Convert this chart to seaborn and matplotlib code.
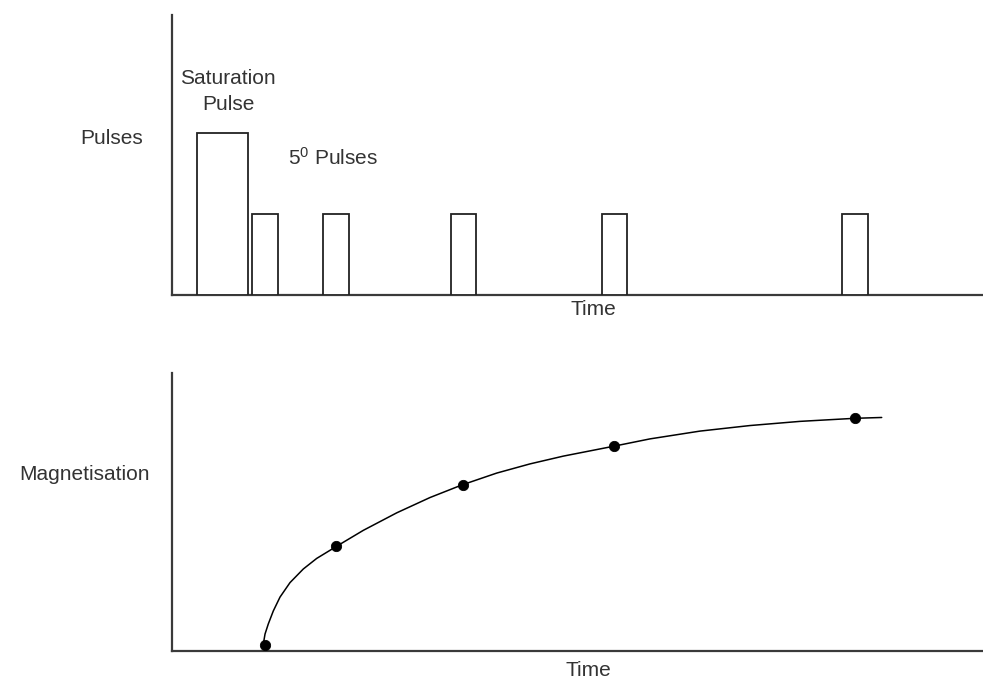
import numpy as np
import pandas as pd
import matplotlib
matplotlib.use("Agg")
import matplotlib.pyplot as plt
import seaborn as sns

# ── Data ────────────────────────────────────────────────────────────────────
# saturation pulse (time units 0-100)
sat_start = 3.05
sat_width = 6.28
sat_height = 57.7

# 5 degree pulses
pulse_centres = [11.47, 20.19, 35.94, 54.56, 84.22]
pulse_width = 3.15
pulse_height = 29.0

# magnetisation sampled at each small pulse
mag_values = [2.2, 37.9, 59.6, 73.7, 83.7]

# recovery curve
curve_t = [11.26, 11.47, 11.87, 12.49, 13.32, 14.55, 16.19, 17.84, 20.43, 23.59,
           27.71, 31.81, 35.72, 40.04, 44.14, 48.25, 54.54, 58.94, 65.10, 71.27,
           77.44, 84.18, 87.51]
curve_m = [2.5, 6.1, 9.7, 14.4, 19.4, 24.6, 29.5, 33.3, 37.9, 43.4,
           49.7, 55.2, 59.7, 64.0, 67.3, 70.1, 73.7, 76.3, 79.1, 81.1,
           82.6, 83.7, 84.0]

# ── Style ───────────────────────────────────────────────────────────────────
sns.set_theme(style="white")
plt.rcParams["font.family"] = ["Liberation Sans", "DejaVu Sans"]
plt.rcParams["mathtext.fontset"] = "custom"
plt.rcParams["mathtext.rm"] = "Liberation Sans"
plt.rcParams["mathtext.it"] = "Liberation Sans"

W, H = 983, 680
fig = plt.figure(figsize=(W / 100, H / 100), dpi=100)

def px_axes(left, top, right, bottom):
    return fig.add_axes([left / W, 1 - bottom / H, (right - left) / W, (bottom - top) / H])

ax_top = px_axes(172, 15, 983, 295)
ax_bot = px_axes(172, 373, 983, 651)

spine_col = "#3a3a3a"
txt_col = "#333333"
fs = 15

for ax in (ax_top, ax_bot):
    ax.set_xlim(0, 100)
    ax.set_ylim(0, 100)
    sns.despine(ax=ax)
    for s in ("left", "bottom"):
        ax.spines[s].set_color(spine_col)
        ax.spines[s].set_linewidth(1.6)
    ax.set_xticks([])
    ax.set_yticks([])
    ax.set_facecolor("white")

# ── Top panel: pulses ───────────────────────────────────────────────────────
ax_top.bar([sat_start], [sat_height], width=sat_width, align="edge",
           color="white", edgecolor="#222222", linewidth=1.3, zorder=3)
ax_top.bar(pulse_centres, [pulse_height] * len(pulse_centres), width=pulse_width,
           color="white", edgecolor="#222222", linewidth=1.3, zorder=3)

ax_top.text(6.9, 77.5, "Saturation", ha="center", va="center", fontsize=fs, color=txt_col)
ax_top.text(6.9, 67.9, "Pulse", ha="center", va="center", fontsize=fs, color=txt_col)
ax_top.text(14.3, 48.9, r"5$^{0}$ Pulses", ha="left", va="center", fontsize=fs, color=txt_col)

fig.text(143 / W, 1 - 139 / H, "Pulses", ha="right", va="center", fontsize=fs, color=txt_col)
fig.text(593 / W, 1 - 310 / H, "Time", ha="center", va="center", fontsize=fs, color=txt_col)

# ── Bottom panel: magnetisation recovery ────────────────────────────────────
curve_df = pd.DataFrame({"t": curve_t, "m": curve_m})
points_df = pd.DataFrame({"t": pulse_centres, "m": mag_values})

sns.lineplot(data=curve_df, x="t", y="m", ax=ax_bot, color="black",
             linewidth=1.1, sort=False, zorder=3, solid_joinstyle="round",
             solid_capstyle="round")
sns.scatterplot(data=points_df, x="t", y="m", ax=ax_bot, color="black",
                s=55, edgecolor="black", zorder=4, clip_on=False)
ax_bot.set_xlabel("")
ax_bot.set_ylabel("")

fig.text(150 / W, 1 - 475 / H, "Magnetisation", ha="right", va="center", fontsize=fs, color=txt_col)
fig.text(588 / W, 1 - 670 / H, "Time", ha="center", va="center", fontsize=fs, color=txt_col)

fig.savefig("out.png", dpi=100, facecolor="white")
